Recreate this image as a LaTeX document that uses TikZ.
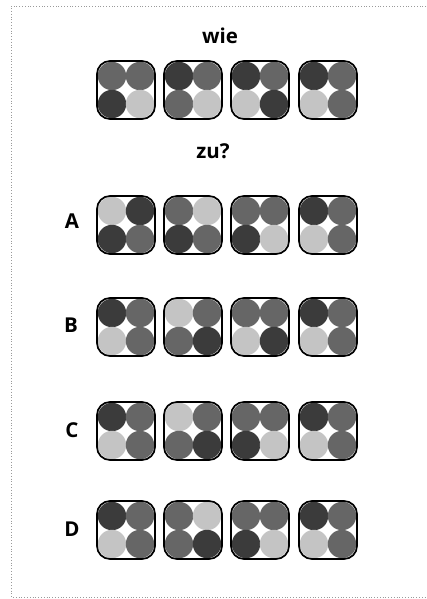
\documentclass[tikz,border=0pt]{standalone}
\usepackage{fontspec}
\setmainfont{Open Sans}
\definecolor{dk}{HTML}{3B3B3B}
\definecolor{md}{HTML}{666666}
\definecolor{lt}{HTML}{C4C4C4}
\definecolor{frame}{HTML}{9A9A9A}
\newcommand\dicebox[7]{%
  \fill[#4] (#2-14,#3-14) circle (14.2pt);
  \fill[#5] (#2+14,#3-14) circle (14.2pt);
  \fill[#6] (#2-14,#3+14) circle (14.2pt);
  \fill[#7] (#2+14,#3+14) circle (14.2pt);
  \node[box] (#1) at (#2,#3) {};
}
\begin{document}
\begin{tikzpicture}[x=1pt,y=-1pt,
  box/.style={draw=black, line width=1.7pt, rounded corners=13pt, minimum width=58pt, minimum height=58pt, inner sep=0pt},
  lbl/.style={font=\bfseries\fontsize{20.5}{23}\selectfont, inner sep=0pt},
  framed/.style={draw=frame, line width=0.8pt, dotted}]
\useasboundingbox (0,0) rectangle (426,599);
\fill[white] (0,0) rectangle (426,599);
\draw[framed] (426,6) -- (11,6) -- (11,597) -- (426,597);

\node[lbl] (wie) at (220,36) {wie};
\node[lbl] (zu) at (213,151) {zu?};
\node[lbl] (A) at (72,221) {A};
\node[lbl] (B) at (71,325) {B};
\node[lbl] (C) at (72,430) {C};
\node[lbl] (D) at (72,529) {D};

% top row
\dicebox{t1}{126}{90}{md}{md}{dk}{lt}
\dicebox{t2}{193}{90}{dk}{md}{md}{lt}
\dicebox{t3}{260}{90}{dk}{md}{lt}{dk}
\dicebox{t4}{328}{90}{dk}{md}{lt}{md}
% A
\dicebox{a1}{126}{225}{lt}{dk}{dk}{md}
\dicebox{a2}{193}{225}{md}{lt}{dk}{md}
\dicebox{a3}{260}{225}{md}{md}{dk}{lt}
\dicebox{a4}{328}{225}{dk}{md}{lt}{md}
% B
\dicebox{b1}{126}{327}{dk}{md}{lt}{md}
\dicebox{b2}{193}{327}{lt}{md}{md}{dk}
\dicebox{b3}{260}{327}{md}{md}{lt}{dk}
\dicebox{b4}{328}{327}{dk}{md}{lt}{md}
% C
\dicebox{c1}{126}{431}{dk}{md}{lt}{md}
\dicebox{c2}{193}{431}{lt}{md}{md}{dk}
\dicebox{c3}{260}{431}{md}{md}{dk}{lt}
\dicebox{c4}{328}{431}{dk}{md}{lt}{md}
% D
\dicebox{d1}{126}{530}{dk}{md}{lt}{md}
\dicebox{d2}{193}{530}{md}{lt}{md}{dk}
\dicebox{d3}{260}{530}{md}{md}{dk}{lt}
\dicebox{d4}{328}{530}{dk}{md}{lt}{md}
\end{tikzpicture}
\end{document}
